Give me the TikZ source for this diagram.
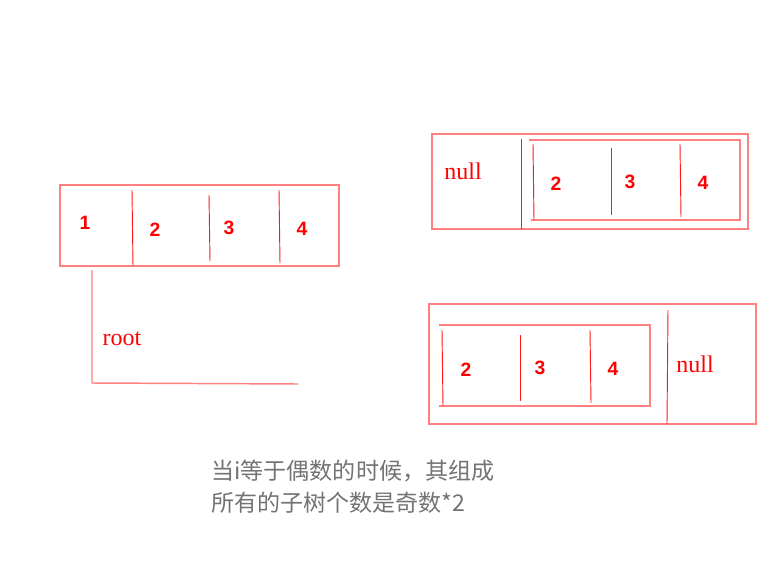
\documentclass[tikz,border=0pt]{standalone}
\usepackage{fontspec}
\setsansfont{Liberation Sans}
\setmainfont{Liberation Serif}
\newfontfamily\cjk{Noto Sans CJK SC}
\begin{document}
\begin{tikzpicture}[x=0.75pt,y=-0.75pt,
  frame/.style={draw=red!50, line width=1.1pt},
  divider/.style={draw=red!90, line width=0.7pt},
  digit/.style={text=red, font=\sffamily\bfseries\fontsize{14.5}{16}\selectfont, inner sep=0pt},
  word/.style={text=red, font=\rmfamily\fontsize{18}{20}\selectfont, inner sep=0pt},
  note/.style={text=black!55, font=\cjk\fontsize{17.3}{23.5}\selectfont, align=left, inner sep=0pt, anchor=north west}]
\useasboundingbox (0,0) rectangle (779,571);
% Box 1
\draw[frame] (60,185) rectangle (339,266);
\draw[divider] (132,190) -- (133,266);
\draw[divider] (209,195) -- (210,261);
\draw[divider] (279,190) -- (280,263);
\node[digit] (a1) at (85,223) {1};
\node[digit] (a2) at (155,230) {2};
\node[digit] (a3) at (229,228) {3};
\node[digit] (a4) at (302,229) {4};
% root bracket
\draw[frame] (92,270) -- (92,383) -- (298,384);
\node[word] (root) at (122,339) {root};
% Box 2
\draw[frame] (432,134) rectangle (748,229);
\draw[divider] (521,139) -- (521,229);
\draw[frame] (529,140) -- (740,140) -- (740,220) -- (531,220);
\draw[divider] (533,144) -- (534,220);
\draw[divider] (611,148) -- (611,215);
\draw[divider] (680,144) -- (681,217);
\node[word] (n1) at (463,171) {null};
\node[digit] (b2) at (556,184) {2};
\node[digit] (b3) at (630,182) {3};
\node[digit] (b4) at (703,183) {4};
% Box 3
\draw[frame] (429,304) rectangle (756,424);
\draw[divider] (668,310) -- (667,424);
\draw[frame] (439,325) -- (650,325) -- (650,406) -- (439,406);
\draw[divider] (442,330) -- (443,406);
\draw[divider] (520,335) -- (520,401);
\draw[divider] (590,330) -- (591,403);
\node[word] (n2) at (695,364) {null};
\node[digit] (c2) at (466,370) {2};
\node[digit] (c3) at (540,368) {3};
\node[digit] (c4) at (613,369) {4};
% note
\node[note] (txt) at (211,460) {当i等于偶数的时候，其组成\\所有的子树个数是奇数*2};
\end{tikzpicture}
\end{document}
